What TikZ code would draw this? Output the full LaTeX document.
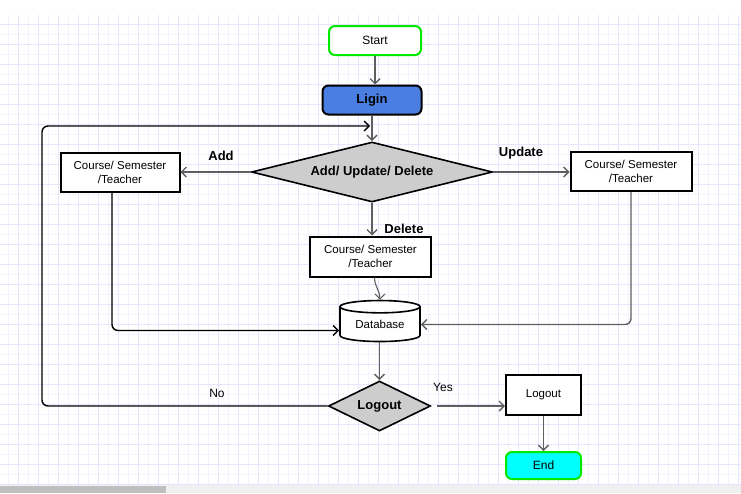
\documentclass[tikz,border=0pt]{standalone}
\usepackage{fontspec}
\setmainfont{Liberation Sans}
\usetikzlibrary{shapes.geometric,arrows.meta}

\definecolor{gridmajor}{RGB}{230,228,255}
\definecolor{gridminor}{RGB}{243,243,255}
\definecolor{loginblue}{RGB}{74,126,224}
\definecolor{decisiongray}{RGB}{205,205,205}
\definecolor{termgreen}{RGB}{0,235,0}
\definecolor{endcyan}{RGB}{0,255,255}
\definecolor{linegray}{RGB}{95,95,95}

\tikzset{
  terminal/.style={draw=termgreen, line width=2pt, rounded corners=6pt, fill=white,
    minimum width=92pt, minimum height=29pt, inner sep=0pt, font=\fontsize{12}{14}\selectfont},
  process/.style={draw=black, line width=2pt, fill=white, align=center, inner sep=0pt,
    minimum width=119pt, minimum height=39pt, font=\fontsize{11.5}{14}\selectfont},
  decision/.style={diamond, draw=black, line width=1.6pt, fill=decisiongray, inner sep=0pt,
    aspect=3, font=\bfseries\fontsize{13}{15}\selectfont},
  flow/.style={draw=linegray, line width=1.4pt, -{Straight Barb[length=5pt,width=10pt]}},
  flowblack/.style={flow, draw=black},
  lbl/.style={inner sep=0pt, font=\bfseries\fontsize{13}{15}\selectfont},
  lblthin/.style={inner sep=0pt, font=\fontsize{12}{14}\selectfont}
}

\begin{document}
\begin{tikzpicture}[x=1pt, y=-1pt]
  \useasboundingbox (0,0) rectangle (741,493);
  % background grid
  \fill[white] (0,0) rectangle (741,493);
  \foreach \gx in {8,18,...,738} \draw[gridminor, line width=0.8pt] (\gx,15) -- (\gx,485);
  \foreach \gy in {24,34,...,484} \draw[gridminor, line width=0.8pt] (0,\gy) -- (741,\gy);
  \foreach \gx in {18,38,...,738} \draw[gridmajor, line width=0.8pt] (\gx,15) -- (\gx,485);
  \foreach \gy in {24,44,...,484} \draw[gridmajor, line width=0.8pt] (0,\gy) -- (741,\gy);

  % nodes
  \node[terminal] (start) at (375,40.5) {Start};
  \node[terminal, draw=black, fill=loginblue, minimum width=99pt,
    font=\bfseries\fontsize{13}{15}\selectfont] (ligin) at (372,100) {Ligin};
  \node[decision, minimum width=241pt, minimum height=60pt] (choice) at (372,172) {Add/ Update/ Delete};
  \node[process] (addbox) at (120,172) {Course/ Semester\\/Teacher};
  \node[process, minimum width=121pt] (updbox) at (631,171.5) {Course/ Semester\\/Teacher};
  \node[process, minimum width=121pt, minimum height=40pt] (delbox) at (370.5,256.5) {Course/ Semester\\/Teacher};
  \node[cylinder, shape border rotate=90, draw=black, line width=1.6pt, fill=white, aspect=0.25,
    minimum width=80pt, minimum height=41pt, inner sep=0pt, font=\fontsize{11.5}{14}\selectfont] (db) at (380,324.5) {Database};
  \node[decision, minimum width=102pt, minimum height=50pt, aspect=2] (logoutq) at (379.5,406) {Logout};
  \node[process, minimum width=75pt, minimum height=40pt] (logoutbox) at (543.5,395) {Logout};
  \node[terminal, fill=endcyan, minimum width=75pt, minimum height=27pt] (end) at (543.5,465.5) {End};

  % labels
  \node[lbl] (addlbl) at (221,156) {Add};
  \node[lbl] (updlbl) at (521,153) {Update};
  \node[lbl] (dellbl) at (404,229) {Delete};
  \node[lblthin] (yeslbl) at (443,387) {Yes};
  \node[lblthin] (nolbl) at (217,393) {No};

  % connectors
  \coordinate (loopend) at (370,126);
  \coordinate (leftrail) at (42,260);
  \draw[flow] (start.south) -- (start.south |- ligin.north);
  \draw[flow] (ligin.south) -- (choice.north);
  \draw[flow] (choice.west) -- (choice.west -| addbox.east);
  \draw[flow] (choice.east) -- (choice.east -| updbox.west);
  \draw[flow] (choice.south) -- (choice.south |- delbox.north);
  \draw[flow, line width=1.1pt] ([xshift=4pt]delbox.south) to[out=-90, in=90] (db.north);
  \draw[flowblack, rounded corners=6pt] ([xshift=-8pt]addbox.south) |- ([yshift=-6pt]db.west);
  \draw[flow, rounded corners=6pt] (updbox.south) |- (db.east);
  \draw[flow] (db.south -| logoutq.north) -- (logoutq.north);
  \draw[flow] ([xshift=6pt]logoutq.east) -- (logoutq.east -| logoutbox.west);
  \draw[flow] (logoutbox.south) -- (end.north);
  \draw[flowblack, rounded corners=6pt] (logoutq.west) -| (leftrail) |- (loopend);

  % scroll bar
  \fill[gray!12] (0,485) rectangle (741,493);
  \fill[gray!50] (0,486) rectangle (166,493);
\end{tikzpicture}
\end{document}
